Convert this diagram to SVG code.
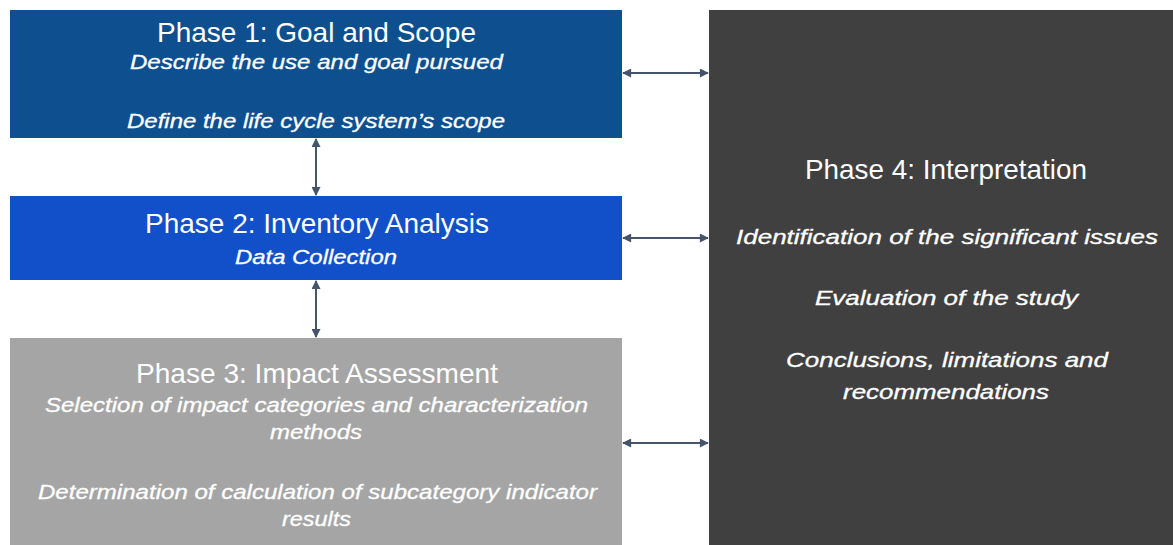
<svg xmlns="http://www.w3.org/2000/svg" width="1173" height="545" viewBox="0 0 1173 545">
<defs>
<marker id="ah" viewBox="0 0 10 10" refX="9" refY="5" markerWidth="10" markerHeight="9" orient="auto-start-reverse" markerUnits="userSpaceOnUse">
<path d="M0,0 L10,5 L0,10 z" fill="#44546a"/>
</marker>
<style>
.t{font-family:"Liberation Sans",Arial,sans-serif;fill:#ffffff;text-anchor:middle;font-size:28px}
.s{font-family:"Liberation Sans",Arial,sans-serif;fill:#ffffff;text-anchor:middle;font-size:19.5px;font-style:italic;stroke:#ffffff;stroke-width:0.3}
.c{stroke:#44546a;stroke-width:2;fill:none;marker-start:url(#ah);marker-end:url(#ah)}
</style>
</defs>
<rect width="1173" height="545" fill="#ffffff"/>
<g id="phase1">
<rect x="10" y="10" width="612" height="128" fill="#0e4f8f"/>
<text class="t" x="316.5" y="42" textLength="319" lengthAdjust="spacingAndGlyphs">Phase 1: Goal and Scope</text>
<text class="s" x="316.5" y="69" textLength="373" lengthAdjust="spacingAndGlyphs">Describe the use and goal pursued</text>
<text class="s" x="316" y="128" textLength="378" lengthAdjust="spacingAndGlyphs">Define the life cycle system’s scope</text>
</g>
<g id="phase2">
<rect x="10" y="196" width="612" height="84" fill="#1150c8"/>
<text class="t" x="317" y="233" textLength="344" lengthAdjust="spacingAndGlyphs">Phase 2: Inventory Analysis</text>
<text class="s" x="316" y="264" textLength="162" lengthAdjust="spacingAndGlyphs">Data Collection</text>
</g>
<g id="phase3">
<rect x="10" y="338" width="612" height="207" fill="#a5a5a5"/>
<text class="t" x="317" y="383" fill="#f2f2f2" textLength="362" lengthAdjust="spacingAndGlyphs">Phase 3: Impact Assessment</text>
<text class="s" x="316.5" y="412" textLength="543" lengthAdjust="spacingAndGlyphs">Selection of impact categories and characterization</text>
<text class="s" x="316" y="439" textLength="92" lengthAdjust="spacingAndGlyphs">methods</text>
<text class="s" x="317.5" y="499" textLength="559" lengthAdjust="spacingAndGlyphs">Determination of calculation of subcategory indicator</text>
<text class="s" x="316.5" y="526" textLength="69" lengthAdjust="spacingAndGlyphs">results</text>
</g>
<g id="phase4">
<rect x="709" y="10" width="464" height="535" fill="#404040"/>
<text class="t" x="946" y="179" textLength="282" lengthAdjust="spacingAndGlyphs">Phase 4: Interpretation</text>
<text class="s" x="947" y="244" textLength="422" lengthAdjust="spacingAndGlyphs">Identification of the significant issues</text>
<text class="s" x="946.5" y="305" textLength="263" lengthAdjust="spacingAndGlyphs">Evaluation of the study</text>
<text class="s" x="947" y="367" textLength="322" lengthAdjust="spacingAndGlyphs">Conclusions, limitations and</text>
<text class="s" x="946" y="399" textLength="206" lengthAdjust="spacingAndGlyphs">recommendations</text>
</g>
<g id="connectors">
<line class="c" x1="623" y1="73" x2="708" y2="73"/>
<line class="c" x1="623" y1="238" x2="708" y2="238"/>
<line class="c" x1="623" y1="443" x2="708" y2="443"/>
<line class="c" x1="316" y1="139" x2="316" y2="195"/>
<line class="c" x1="316" y1="281" x2="316" y2="337"/>
</g>
</svg>
